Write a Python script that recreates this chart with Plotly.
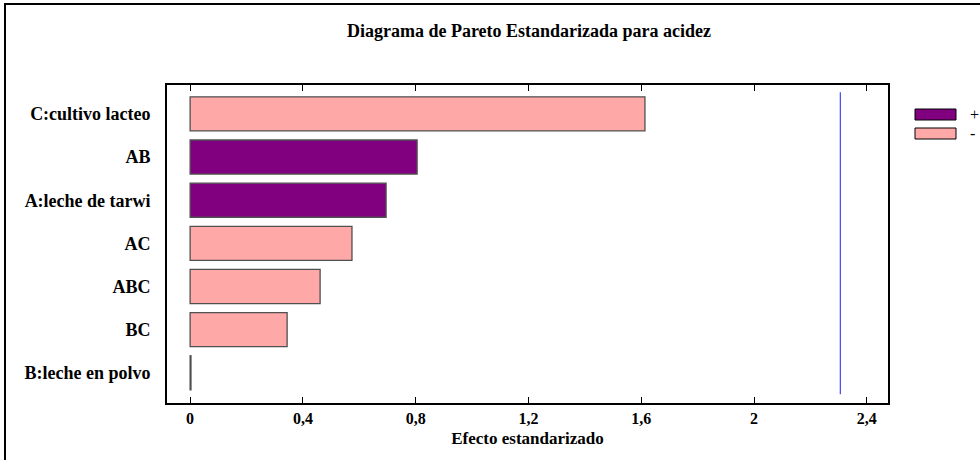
import plotly.graph_objects as go

# Standardized effects for the Pareto chart (acidity response)
factors = ["C:cultivo lacteo", "AB", "A:leche de tarwi", "AC", "ABC", "BC", "B:leche en polvo"]
effects = [1.613, 0.805, 0.695, 0.574, 0.461, 0.344, 0.003]
signs = ["-", "+", "+", "-", "-", "-", "-"]
critical_value = 2.306
x_ticks = [0, 0.4, 0.8, 1.2, 1.6, 2, 2.4]
legend_labels = ["+", "-"]

W, H = 980, 460
L, R, T, B = 167, 92, 85, 57
PW, PH = W - L - R, H - T - B

POS_COLOR = "#800080"
NEG_COLOR = "#FFA8A8"
EDGE = "#505050"
FONT = "Liberation Serif"


def px(x):
    return (x - L) / PW


def py(y):
    return (H - B - y) / PH


fig = go.Figure()
for sign, color in zip(legend_labels, [POS_COLOR, NEG_COLOR]):
    ys = [f for f, s in zip(factors, signs) if s == sign]
    xs = [e for e, s in zip(effects, signs) if s == sign]
    fig.add_trace(go.Bar(
        x=xs, y=ys, orientation="h", name=sign, width=0.79,
        marker=dict(color=color, line=dict(color=EDGE, width=1.3)),
        showlegend=False, hoverinfo="x+y",
    ))

# critical value reference line
fig.add_shape(type="line", xref="x", yref="y", x0=critical_value, x1=critical_value,
              y0=-0.5, y1=6.5, line=dict(color="#5050F0", width=1.3))

# outer page border (top and left edges)
fig.add_shape(type="rect", xref="paper", yref="paper",
              x0=px(5), x1=px(1000), y0=py(4), y1=py(480),
              line=dict(color="black", width=2), layer="below")

# legend drawn as wide swatches
for i, (lab, color) in enumerate(zip(legend_labels, [POS_COLOR, NEG_COLOR])):
    y_top = 109 + i * 19
    fig.add_shape(type="rect", xref="paper", yref="paper",
                  x0=px(915), x1=px(956), y0=py(y_top + 11), y1=py(y_top),
                  fillcolor=color, line=dict(color="black", width=1))
    fig.add_annotation(xref="paper", yref="paper", x=px(968), y=py(y_top + 5.5),
                       text=lab, showarrow=False, xanchor="left", yanchor="middle",
                       font=dict(family=FONT, size=16, color="black"))

fig.update_layout(
    width=W, height=H,
    margin=dict(l=L, r=R, t=T, b=B, pad=0),
    paper_bgcolor="white", plot_bgcolor="white",
    separators=",.",
    barmode="overlay",
    font=dict(family=FONT, size=16, color="black"),
    title=dict(text="<b>Diagrama de Pareto Estandarizada para acidez</b>",
               xref="container", x=529 / W, xanchor="center",
               yref="container", y=1 - 31 / H, yanchor="middle",
               font=dict(family=FONT, size=18, color="black")),
    xaxis=dict(range=[-0.082, 2.475], tickvals=x_ticks,
               ticktext=[f"<b>{str(v).replace('.', ',')}</b>" for v in x_ticks],
               ticks="inside", ticklen=6, tickwidth=1.3, tickcolor="black",
               showline=True, linecolor="black", linewidth=1.6, mirror="ticks",
               showgrid=False, zeroline=False, tickfont=dict(size=16),
               title=dict(text="<b>Efecto estandarizado</b>", standoff=6,
                          font=dict(family=FONT, size=17))),
    yaxis=dict(type="category", categoryorder="array", categoryarray=factors,
               range=[6.7, -0.67],
               tickvals=factors, ticktext=[f"<b>{f}</b>" for f in factors],
               ticks="", showline=True, linecolor="black", linewidth=1.6, mirror=True,
               showgrid=False, zeroline=False, ticklabelstandoff=11,
               tickfont=dict(size=18)),
)

fig.write_html("out.html")
